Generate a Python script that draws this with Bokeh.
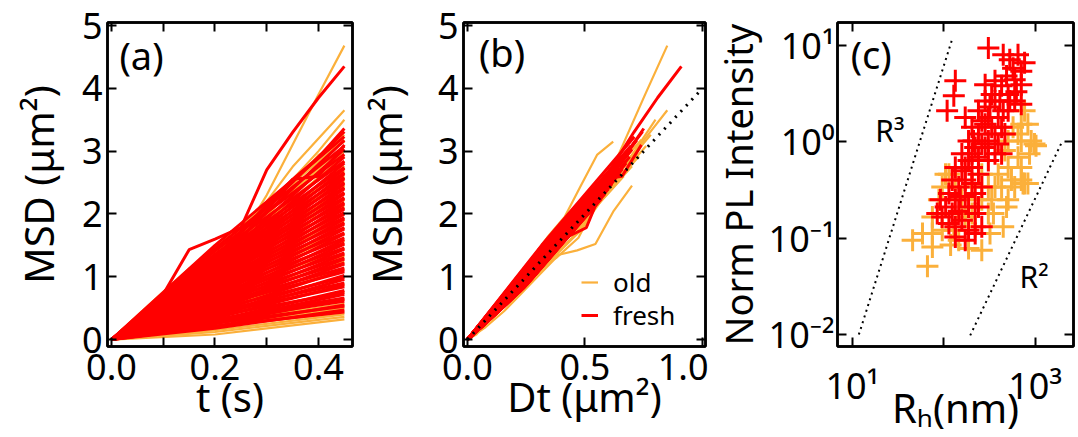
from bokeh.plotting import figure
from bokeh.models import (Range1d, FixedTicker, LinearAxis, LogAxis, CustomJSTickFormatter,
                          Legend, LegendItem, Label)
from bokeh.layouts import row
from bokeh.embed import file_html
from bokeh.resources import INLINE

FONT = "Noto Sans"
RED = "#FF0000"
OLD = "#FBB03B"

# ---------------- data ----------------
# time lags (s)
T_BULK = [0.0, 0.2, 0.45]
T_FULL = [0.0, 0.05, 0.10, 0.15, 0.20, 0.25, 0.30, 0.35, 0.40, 0.45]

# fresh tracks: MSD at t=0.2 s and t=0.45 s, and D*t at t=0.45 s (um^2)
fresh_end = [0.44, 0.47, 0.53, 0.55, 0.61, 0.64, 0.66, 0.72, 0.75, 0.78,
             0.84, 0.87, 0.90, 0.96, 0.99, 1.02, 1.08, 1.11, 1.14, 1.20,
             1.22, 1.28, 1.30, 1.36, 1.38, 1.44, 1.46, 1.52, 1.54, 1.59,
             1.62, 1.68, 1.70, 1.76, 1.78, 1.84, 1.86, 1.92, 1.94, 2.00,
             2.02, 2.08, 2.10, 2.16, 2.18, 2.24, 2.26, 2.32, 2.34, 2.40,
             2.42, 2.48, 2.50, 2.56, 2.58, 2.64, 2.66, 2.72, 2.74, 2.81,
             2.84, 2.91, 2.95, 3.03, 3.08, 3.17, 3.23, 3.31]
fresh_mid = [0.21, 0.18, 0.26, 0.21, 0.30, 0.25, 0.32, 0.28, 0.37, 0.30,
             0.41, 0.34, 0.44, 0.37, 0.48, 0.40, 0.53, 0.43, 0.56, 0.47,
             0.60, 0.50, 0.63, 0.53, 0.67, 0.56, 0.71, 0.59, 0.75, 0.62,
             0.79, 0.65, 0.83, 0.69, 0.87, 0.72, 0.90, 0.75, 0.94, 0.78,
             0.98, 0.81, 1.02, 0.84, 1.06, 0.88, 1.10, 0.91, 1.13, 0.94,
             1.17, 0.97, 1.21, 1.00, 1.24, 1.03, 1.28, 1.06, 1.31, 1.10,
             1.36, 1.14, 1.41, 1.19, 1.45, 1.25, 1.50, 1.30]
fresh_dt = [0.11, 0.12, 0.13, 0.14, 0.15, 0.165, 0.16, 0.185, 0.18, 0.20,
            0.205, 0.225, 0.22, 0.245, 0.24, 0.265, 0.265, 0.285, 0.28, 0.31,
            0.30, 0.33, 0.32, 0.35, 0.335, 0.37, 0.355, 0.39, 0.375, 0.41,
            0.395, 0.43, 0.415, 0.45, 0.435, 0.47, 0.455, 0.49, 0.47, 0.51,
            0.49, 0.53, 0.51, 0.55, 0.53, 0.57, 0.55, 0.585, 0.565, 0.60,
            0.58, 0.615, 0.60, 0.63, 0.615, 0.645, 0.63, 0.66, 0.645, 0.675,
            0.66, 0.69, 0.68, 0.70, 0.695, 0.72, 0.71, 0.745]

# fresh tracks sampled every 0.05 s
fresh_full = [[0, 0.36, 0.72, 1.43, 1.60, 1.78, 2.70, 3.30, 3.85, 4.35],
              [0, 0.30, 0.62, 0.95, 1.30, 1.72, 2.15, 2.55, 2.90, 3.36],
              [0, 0.28, 0.58, 0.90, 1.25, 1.60, 2.05, 2.55, 2.60, 3.10]]
fresh_full_dt = [0.91, 0.75, 0.74]

# old tracks
old_end = [0.32, 0.36, 0.40, 0.43, 0.50, 0.57, 0.64, 0.76, 0.88, 1.00,
           1.12, 1.24, 1.33, 1.45, 1.57, 1.69, 1.78, 1.90, 2.00, 2.12,
           2.22, 2.33, 2.42, 2.52, 2.60, 2.68, 2.76, 2.84, 2.92, 3.00,
           3.08, 3.18, 3.26]
old_mid = [0.08, 0.12, 0.15, 0.20, 0.20, 0.27, 0.26, 0.36, 0.36, 0.47,
           0.46, 0.58, 0.55, 0.68, 0.65, 0.79, 0.74, 0.89, 0.83, 0.99,
           0.92, 1.09, 1.01, 1.18, 1.08, 1.25, 1.16, 1.33, 1.22, 1.40,
           1.29, 1.45, 1.36]
old_dt = [0.085, 0.095, 0.10, 0.11, 0.125, 0.14, 0.165, 0.19, 0.225, 0.25,
          0.285, 0.31, 0.345, 0.36, 0.40, 0.42, 0.46, 0.47, 0.515, 0.53,
          0.57, 0.58, 0.62, 0.63, 0.665, 0.66, 0.70, 0.69, 0.73, 0.72,
          0.76, 0.74, 0.78]
old_full = [[0, 0.38, 0.76, 1.13, 1.30, 1.62, 2.30, 3.10, 3.90, 4.68],
            [0, 0.30, 0.65, 1.00, 1.35, 1.70, 2.20, 2.75, 3.20, 3.65],
            [0, 0.28, 0.60, 0.92, 1.28, 1.62, 2.05, 2.55, 3.00, 3.50],
            [0, 0.30, 0.62, 0.95, 1.30, 1.65, 1.95, 2.45, 2.94, 3.15],
            [0, 0.20, 0.45, 0.75, 1.05, 1.35, 1.42, 1.52, 2.05, 2.45]]
old_full_dt = [0.85, 0.85, 0.80, 0.62, 0.70]

# free-diffusion reference MSD = 4 D t
REF_DT = [0.0, 1.0]
REF_MSD = [0.0, 4.0]

# panel (c): hydrodynamic radius (nm) vs normalized PL intensity
fresh_R = [308, 448, 528, 650, 767, 574, 487, 706, 364, 430,
           598, 134, 129, 109, 172, 240, 284, 335, 412, 507,
           598, 706, 284, 204, 240, 261, 308, 187, 221, 261,
           308, 158, 187, 240, 364, 430, 134, 158, 204, 240,
           124, 146, 172, 204, 114, 134, 172, 221, 105, 124,
           146, 187, 221, 96, 114, 134, 158, 187, 134, 172,
           221, 261, 240, 261, 308, 364, 395, 467, 507, 395,
           430, 335, 284, 212, 152, 321, 448, 528, 364, 284,
           172, 204, 92, 85, 624, 706]
fresh_I = [9.4, 8.0, 7.1, 8.0, 6.6, 5.8, 4.8, 5.4, 4.3, 3.8,
           4.4, 4.3, 3.0, 2.1, 1.78, 2.1, 2.65, 3.1, 2.65, 3.1,
           2.65, 2.45, 3.9, 1.41, 1.20, 1.65, 1.78, 1.02, 0.87, 0.95,
           1.02, 0.75, 0.64, 0.69, 1.20, 1.41, 0.54, 0.50, 0.54, 0.46,
           0.40, 0.34, 0.40, 0.37, 0.29, 0.25, 0.27, 0.29, 0.21, 0.18,
           0.19, 0.21, 0.18, 0.166, 0.142, 0.131, 0.153, 0.121, 0.103, 0.095,
           0.112, 0.131, 0.21, 0.34, 0.64, 0.75, 0.95, 1.20, 2.1, 1.78,
           0.75, 1.41, 0.87, 1.02, 0.27, 2.3, 2.1, 2.65, 2.65, 1.52,
           0.54, 0.75, 0.25, 0.18, 3.3, 3.9]
old_R = [45.7, 66.4, 75.2, 58.6, 96.4, 119, 187, 261, 448, 350,
         507, 551, 767, 706, 834, 906, 650, 869, 507, 395,
         308, 261, 335, 88.7, 104.7, 158, 172, 75.2, 96.4, 261,
         204, 467, 650, 574, 221, 321, 706, 984, 430, 598,
         706, 834, 487, 308, 129, 146, 75, 767, 706, 507,
         364, 204, 134, 114, 1023, 738]
old_I = [0.095, 0.051, 0.081, 0.112, 0.121, 0.085, 0.078, 0.075, 0.131, 0.18,
         0.25, 0.40, 0.37, 1.02, 1.52, 1.02, 1.20, 0.75, 0.54, 0.46,
         0.34, 0.25, 0.25, 0.25, 0.46, 0.25, 0.166, 0.166, 0.34, 0.46,
         0.18, 0.81, 0.69, 1.41, 0.131, 0.112, 0.54, 0.95, 0.34, 0.34,
         0.40, 0.37, 0.21, 0.18, 0.121, 0.095, 0.112, 2.1, 1.52, 1.02,
         0.34, 0.34, 0.34, 0.46, 0.91, 0.37]

# power-law guide lines
R3_R = [11.8, 126.0]
R3_I = [0.01, 12.2]
R2_R = [195.0, 2000.0]
R2_I = [0.0098, 1.03]

assert len(fresh_end) == len(fresh_mid) == len(fresh_dt)
assert len(old_end) == len(old_mid) == len(old_dt)
assert len(fresh_R) == len(fresh_I) and len(old_R) == len(old_I)

T_END = T_BULK[-1]


def tracks(ends, mids, dts, full, full_dt, scaled):
    xs, ys = [], []
    for e, m, d in zip(ends, mids, dts):
        f = d / T_END if scaled else 1.0
        xs.append([t * f for t in T_BULK])
        ys.append([0.0, m, e])
    for msd, d in zip(full, full_dt):
        f = d / T_END if scaled else 1.0
        xs.append([t * f for t in T_FULL])
        ys.append(list(msd))
    return xs, ys


# ---------------- styling helpers ----------------
TICK_SIZE = "36px"
LABEL_SIZE = "40px"
H = 437


def style_axis(ax, ticks, minor=(), fmt=None, show=True, standoff=5,
               label=None, label_standoff=0, label_size=LABEL_SIZE):
    ax.ticker = FixedTicker(ticks=list(ticks), minor_ticks=list(minor))
    ax.axis_line_width = 2.5
    ax.axis_line_color = "black"
    ax.major_tick_in = 9
    ax.major_tick_out = 0
    ax.minor_tick_in = 9
    ax.minor_tick_out = 0
    ax.major_tick_line_width = 2
    ax.minor_tick_line_width = 2
    ax.major_tick_line_color = "black"
    ax.minor_tick_line_color = "black"
    ax.major_label_text_font = FONT
    if show:
        ax.formatter = fmt
        ax.major_label_text_color = "black"
        ax.major_label_text_font_size = TICK_SIZE
        ax.major_label_standoff = standoff
    else:
        ax.formatter = CustomJSTickFormatter(code="return ' ';")
        ax.major_label_text_color = "white"
        ax.major_label_text_alpha = 0.0
        ax.major_label_text_font_size = "8px"
        ax.major_label_standoff = 0
    if label is not None:
        ax.axis_label = label
        ax.axis_label_standoff = label_standoff
        ax.axis_label_text_font = FONT
        ax.axis_label_text_font_style = "normal"
        ax.axis_label_text_color = "black"
        ax.axis_label_text_font_size = label_size


def base_fig(width, left, right, x_range, y_range, **kw):
    p = figure(width=width, height=H, x_range=x_range, y_range=y_range,
               output_backend="svg", toolbar_location=None,
               min_border_left=left, min_border_right=right,
               min_border_top=22, min_border_bottom=85, **kw)
    p.grid.visible = False
    p.outline_line_color = "black"
    p.outline_line_width = 2.5
    p.background_fill_color = "white"
    p.border_fill_color = "white"
    return p


def text(p, x, y, s, size):
    p.add_layout(Label(x=x, y=y, text=s, text_font=FONT, text_font_size=size,
                       text_align="center", text_baseline="middle", text_color="black"))


def legend_entry(p, renderer, name, y):
    p.add_layout(Legend(items=[LegendItem(label=name, renderers=[renderer])],
                        location=(118, y), padding=0, margin=0, spacing=0,
                        glyph_width=17, glyph_height=28, label_height=28, label_standoff=15,
                        label_text_font=FONT, label_text_font_size="26px",
                        label_text_color="black",
                        border_line_alpha=0, background_fill_alpha=0))


FMT1 = CustomJSTickFormatter(code="return tick.toFixed(1);")
FMT0 = CustomJSTickFormatter(code="return tick.toFixed(0);")
LOG_CODE = """
const e = Math.round(Math.log10(tick));
if (skip.includes(e)) return '';
const sup = {'-':'\\u207b','0':'\\u2070','1':'\\u00b9','2':'\\u00b2','3':'\\u00b3'};
return '10' + String(e).split('').map(c => sup[c]).join('');
"""
LOGFMT_X = CustomJSTickFormatter(args=dict(skip=[2]), code=LOG_CODE)
LOGFMT_Y = CustomJSTickFormatter(args=dict(skip=[]), code=LOG_CODE)

Y_TICKS = [0, 1, 2, 3, 4, 5]
MSD_LABEL = "MSD (\u03bcm\u00b2)"
MSD_RANGE = (-0.111, 5.048)

# ---------------- panel (a) ----------------
pa = base_fig(355, 107, 3, Range1d(-0.0077, 0.4657), Range1d(*MSD_RANGE))
style_axis(pa.xaxis[0], [0.0, 0.2, 0.4], [0.1, 0.3], FMT1, standoff=7,
           label="t (s)", label_standoff=-14)
style_axis(pa.yaxis[0], Y_TICKS, (), FMT0, standoff=5,
           label=MSD_LABEL, label_standoff=13)
top = LinearAxis()
style_axis(top, [0.0, 0.2, 0.4], [0.1, 0.3], show=False)
pa.add_layout(top, "above")
rgt = LinearAxis()
style_axis(rgt, Y_TICKS, show=False)
pa.add_layout(rgt, "right")

xs, ys = tracks(old_end, old_mid, old_dt, old_full, old_full_dt, False)
pa.multi_line(xs, ys, line_color=OLD, line_width=2.2)
xs, ys = tracks(fresh_end, fresh_mid, fresh_dt, fresh_full, fresh_full_dt, False)
pa.multi_line(xs, ys, line_color=RED, line_width=3)
text(pa, 0.058, 4.53, "(a)", "38px")

# ---------------- panel (b) ----------------
pb = base_fig(353, 105, 3, Range1d(-0.0168, 1.0126), Range1d(*MSD_RANGE))
style_axis(pb.xaxis[0], [0.0, 0.5, 1.0], (), FMT1, standoff=7,
           label="Dt (\u03bcm\u00b2)", label_standoff=-14)
style_axis(pb.yaxis[0], Y_TICKS, (), FMT0, standoff=5,
           label=MSD_LABEL, label_standoff=21)
top = LinearAxis()
style_axis(top, [0.0, 0.5, 1.0], show=False)
pb.add_layout(top, "above")
rgt = LinearAxis()
style_axis(rgt, Y_TICKS, show=False)
pb.add_layout(rgt, "right")

xs, ys = tracks(old_end, old_mid, old_dt, old_full, old_full_dt, True)
r_old = pb.multi_line(xs, ys, line_color=OLD, line_width=2.2)
xs, ys = tracks(fresh_end, fresh_mid, fresh_dt, fresh_full, fresh_full_dt, True)
r_fresh = pb.multi_line(xs, ys, line_color=RED, line_width=3)
pb.line(REF_DT, REF_MSD, line_color="black", line_width=3, line_dash="2 6")
legend_entry(pb, r_old, "old", 46)
legend_entry(pb, r_fresh, "fresh", 13)
text(pb, 0.147, 4.58, "(b)", "38px")

# ---------------- panel (c) ----------------
pc = base_fig(370, 126, 5, Range1d(6.89, 2630), Range1d(0.00752, 17.26),
              x_axis_type="log", y_axis_type="log")
style_axis(pc.xaxis[0], [10, 100, 1000], (), LOGFMT_X, standoff=14,
           label="R\u2095(nm)", label_standoff=-33)
style_axis(pc.yaxis[0], [0.01, 0.1, 1, 10], (), LOGFMT_Y, standoff=3,
           label="Norm PL Intensity", label_standoff=2, label_size="38px")
top = LogAxis()
style_axis(top, [10, 100, 1000], show=False)
pc.add_layout(top, "above")
rgt = LogAxis()
style_axis(rgt, [0.01, 0.1, 1, 10], show=False)
pc.add_layout(rgt, "right")

pc.scatter(old_R, old_I, marker="cross", size=22, line_width=3, line_color=OLD)
pc.scatter(fresh_R, fresh_I, marker="cross", size=22, line_width=3, line_color=RED)
pc.line(R3_R, R3_I, line_color="black", line_width=2, line_dash="2 4")
pc.line(R2_R, R2_I, line_color="black", line_width=2, line_dash="2 4")
text(pc, 25.8, 1.31, "R\u00b3", "30px")
text(pc, 975, 0.040, "R\u00b2", "30px")
text(pc, 16.1, 8.17, "(c)", "38px")

layout = row(pa, pb, pc, spacing=0)
open("out.html", "w").write(file_html(layout, INLINE))
